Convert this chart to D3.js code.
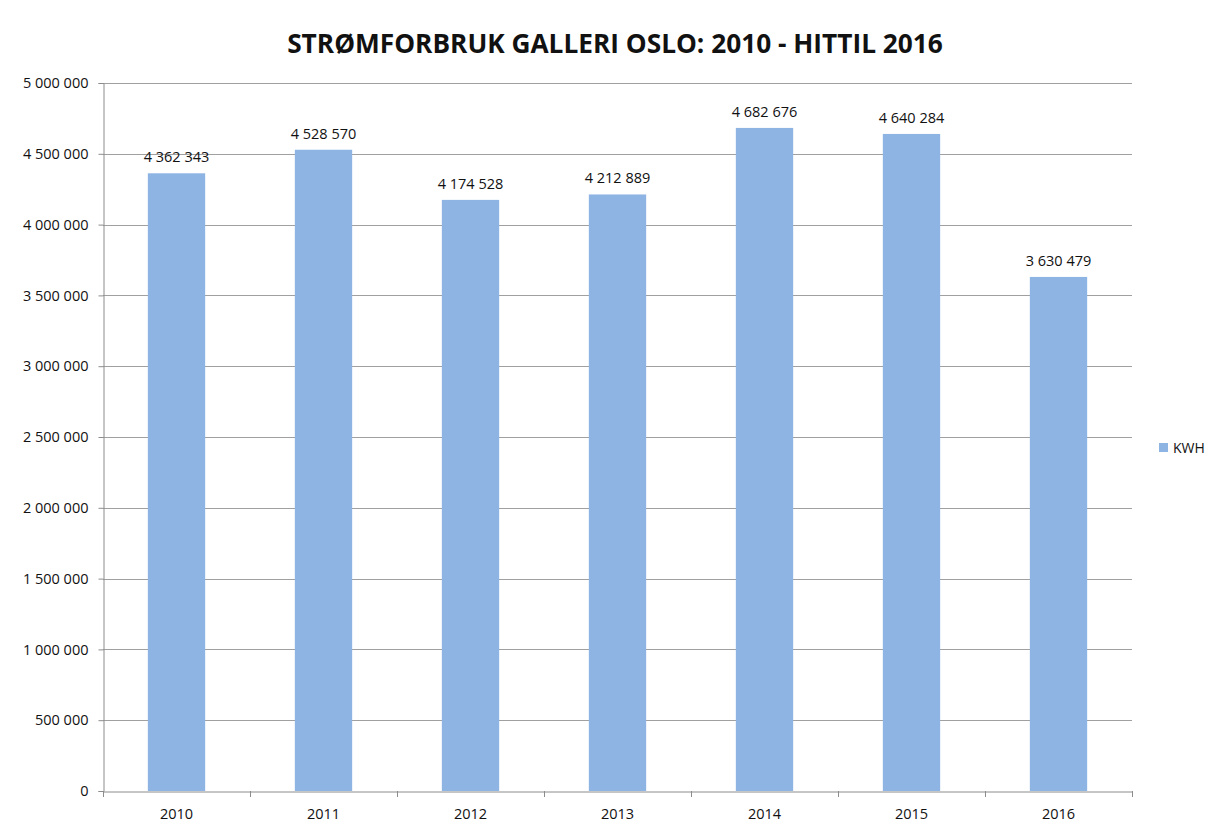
<!DOCTYPE html>
<html>
<head>
<meta charset="utf-8">
<script src="https://cdn.jsdelivr.net/npm/d3@7"></script>
<style>
  body { margin: 0; background: #fff; }
  svg text { font-family: 'Open Sans', 'DejaVu Sans', sans-serif; fill: #111; }
</style>
</head>
<body>
<div id="chart"></div>
<script>
// Chart data
const years = ['2010', '2011', '2012', '2013', '2014', '2015', '2016'];
const kwh = [4362343, 4528570, 4174528, 4212889, 4682676, 4640284, 3630479];
const yTicks = [0, 500000, 1000000, 1500000, 2000000, 2500000, 3000000, 3500000, 4000000, 4500000, 5000000];
const seriesName = 'KWH';
const title = 'STRØMFORBRUK GALLERI OSLO: 2010 - HITTIL 2016';

const width = 1209, height = 826;
const plot = { left: 103, right: 1132, top: 83, bottom: 791 };
const barColor = '#8eb4e3';
const gridColor = '#a0a0a0';
const axisColor = '#8c8c8c';

const fmt = d3.formatLocale({ decimal: ',', thousands: ' ', grouping: [3], currency: ['', ' kr'] }).format(',d');

const svg = d3.select('#chart')
  .append('svg')
  .attr('width', width)
  .attr('height', height);

const x = d3.scaleBand()
  .domain(years)
  .range([plot.left, plot.right])
  .paddingInner(0.61)
  .paddingOuter(0.305);

const y = d3.scaleLinear()
  .domain([0, 5000000])
  .range([plot.bottom, plot.top]);

// Horizontal grid lines
svg.append('g')
  .selectAll('line')
  .data(yTicks.filter(d => d > 0))
  .enter().append('line')
  .attr('x1', plot.left)
  .attr('x2', plot.right)
  .attr('y1', d => Math.round(y(d)) + 0.5)
  .attr('y2', d => Math.round(y(d)) + 0.5)
  .attr('stroke', gridColor)
  .attr('stroke-width', 1);

// Y axis
const yAxis = svg.append('g')
  .attr('transform', `translate(${plot.left + 0.5},0)`)
  .call(d3.axisLeft(y).tickValues(yTicks).tickSize(5).tickPadding(10).tickFormat(fmt));
yAxis.select('.domain').attr('stroke', axisColor);
yAxis.selectAll('.tick line').attr('stroke', axisColor);
yAxis.selectAll('text').style('font-size', '14.5px').attr('fill', '#111');

// Bars
svg.append('g')
  .selectAll('rect')
  .data(kwh)
  .enter().append('rect')
  .attr('x', (d, i) => x(years[i]))
  .attr('y', d => y(d))
  .attr('width', x.bandwidth())
  .attr('height', d => y(0) - y(d))
  .attr('fill', barColor);

// Data labels
svg.append('g')
  .selectAll('text')
  .data(kwh)
  .enter().append('text')
  .attr('x', (d, i) => x(years[i]) + x.bandwidth() / 2)
  .attr('y', d => y(d) - 11)
  .attr('text-anchor', 'middle')
  .style('font-size', '14.5px')
  .text(d => fmt(d));

// X axis (labels centred, ticks between categories)
const xAxis = svg.append('g')
  .attr('transform', `translate(0,${plot.bottom + 0.5})`)
  .call(d3.axisBottom(x).tickSize(0).tickPadding(17));
xAxis.select('.domain').attr('stroke', axisColor);
xAxis.selectAll('text').style('font-size', '14.5px').attr('fill', '#111');

const step = x.step();
svg.append('g')
  .selectAll('line')
  .data(d3.range(years.length + 1))
  .enter().append('line')
  .attr('x1', i => Math.round(plot.left + i * step) + 0.5)
  .attr('x2', i => Math.round(plot.left + i * step) + 0.5)
  .attr('y1', plot.bottom)
  .attr('y2', plot.bottom + 6)
  .attr('stroke', axisColor);

// Title, fitted to the reference width
const titleText = svg.append('text')
  .attr('x', 615)
  .attr('y', 53)
  .attr('text-anchor', 'middle')
  .style('font-size', '26px')
  .style('font-weight', 'bold')
  .text(title);
const tw = titleText.node().getComputedTextLength();
titleText.style('font-size', (26 * 656 / tw) + 'px');

// Legend
const legend = svg.append('g').attr('transform', 'translate(1159,443)');
legend.append('rect')
  .attr('width', 9)
  .attr('height', 9)
  .attr('fill', barColor);
legend.append('text')
  .attr('x', 14)
  .attr('y', 10)
  .style('font-size', '14px')
  .text(seriesName);
</script>
</body>
</html>
